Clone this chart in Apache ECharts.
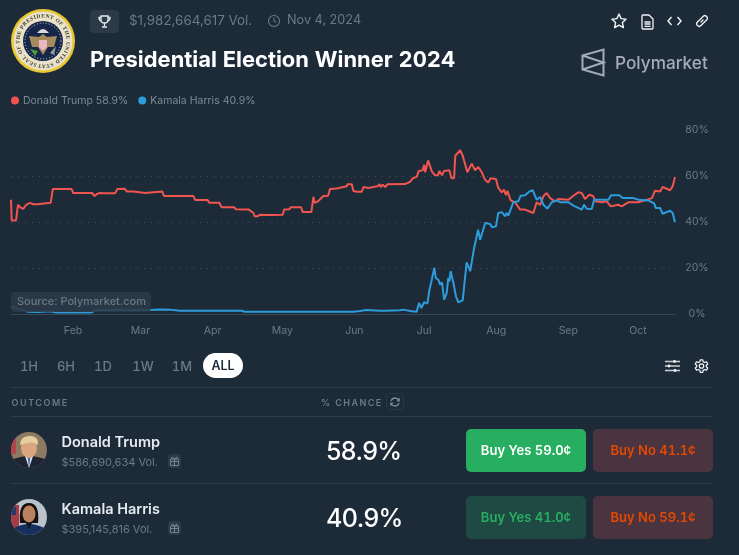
<!DOCTYPE html>
<html>
<head>
<meta charset="utf-8">
<title>Presidential Election Winner 2024</title>
<script src="https://cdn.jsdelivr.net/npm/echarts@6/dist/echarts.min.js"></script>
<style>
html, body { margin: 0; padding: 0; background: #1d2b39; }
body { width: 739px; height: 555px; position: relative; overflow: hidden; font-family: Inter, "Noto Sans", sans-serif; }
#chart-content { position: absolute; left: 0; top: 0; width: 739px; height: 555px; }
.t { position: absolute; white-space: nowrap; line-height: 1; }
.abs { position: absolute; }
.muted { color: #6c7a88; }
.tab { position: absolute; top: 359px; width: 34px; margin-left: -17px; text-align: center; font-size: 13px; font-weight: 500; line-height: 14px; color: #6c7a88; font-variant-numeric: tabular-nums; }
.rule { position: absolute; left: 11px; width: 702px; height: 1px; background: #2f3d4b; }
.btn { position: absolute; width: 120px; height: 43px; line-height: 43px; border-radius: 5px; text-align: center; font-size: 13px; font-weight: 600; font-variant-numeric: tabular-nums; }
.yes { background: #27ae60; color: #fff; }
.yes-off { background: #1f4a43; color: #27ae60; }
.no { background: #4a3440; color: #e64800; }
.name { position: absolute; left: 61.5px; font-size: 14.5px; font-weight: 600; color: #e6ebf0; line-height: 16px; }
.vol { position: absolute; left: 61.5px; font-size: 11px; color: #6c7a88; line-height: 13px; }
.pct { position: absolute; left: 326px; font-size: 25px; letter-spacing: -0.6px; font-weight: 500; color: #fff; line-height: 28px; }
.gift { position: absolute; left: 168px; width: 13px; height: 14px; border-radius: 3px; background: #2a3a49; }
svg { position: absolute; overflow: visible; }
</style>
</head>
<body>
<div id="chart-content"></div>

<!-- header -->
<svg style="left:11px;top:9px" width="64" height="64" viewBox="0 0 64 64">
  <circle cx="32" cy="32" r="32" fill="#e8c832"/>
  <circle cx="32" cy="32" r="29.5" fill="#e9e2c8"/>
  <defs><path id="sealArc" d="M32 32 m-23.5 0 a23.5 23.5 0 1 1 47 0 a23.5 23.5 0 1 1 -47 0"/></defs>
  <text transform="rotate(-75 32 32)" font-family="Liberation Serif" font-size="5.4" font-weight="700" fill="#3c3a30" letter-spacing=".5"><textPath href="#sealArc">SEAL OF THE PRESIDENT OF THE UNITED STATES</textPath></text>
  <circle cx="32" cy="32" r="20" fill="#15264a"/>
  <circle cx="32" cy="32" r="18" fill="none" stroke="#d8d8d8" stroke-width="1" stroke-dasharray="1 2"/>
  <path d="M28 22 Q32 18 36 22 L38 24 H26 Z" fill="#d9d9d9"/>
  <path d="M18 27 L28 28 L32 25 L36 28 L46 27 L43 38 L37 38 L32 46 L27 38 L21 38 Z" fill="#a58a5c"/>
  <path d="M28 31 H36 V38 L32 42 L28 38 Z" fill="#e8b9c3"/>
  <path d="M19 40 L27 42 L24 47 Z" fill="#4c9a3c"/>
  <path d="M45 37 L39 44 L43 46 Z" fill="#9a9a9a"/>
</svg>
<div class="abs" style="left:90px;top:10px;width:29px;height:23px;border-radius:4px;background:#2c3a48"></div>
<svg style="left:98px;top:15px" width="13" height="13" viewBox="0 0 13 13" fill="none" stroke="#e6ebf0" stroke-width="1.3">
  <path d="M3 1 H10 V5 Q10 8 6.5 8 Q3 8 3 5 Z"/><path d="M3 2.5 H1 Q1 5.5 3.2 5.8 M10 2.5 H12 Q12 5.5 9.8 5.8 M6.5 8 V11 M4 12 H9"/>
</svg>
<div class="t muted" style="left:129px;top:14px;font-size:13.4px">$1,982,664,617 Vol.</div>
<svg style="left:268px;top:15px" width="12" height="12" viewBox="0 0 12 12" fill="none" stroke="#6c7a88" stroke-width="1.1">
  <circle cx="6" cy="6" r="5.5"/><path d="M6 2.8 V6 L8.2 7.4"/>
</svg>
<div class="t muted" style="left:287px;top:14px;font-size:12.7px">Nov 4, 2024</div>
<div class="t" style="left:90px;top:49px;font-size:21.9px;font-weight:700;color:#fff;font-variant-numeric:tabular-nums">Presidential Election Winner 2024</div>

<svg style="left:611px;top:13px" width="16" height="16" viewBox="0 0 16 16" fill="none" stroke="#f2f4f6" stroke-width="1.4" stroke-linejoin="round">
  <path d="M8 1 L10.1 5.6 L15 6.2 L11.4 9.6 L12.4 14.6 L8 12.1 L3.6 14.6 L4.6 9.6 L1 6.2 L5.9 5.6 Z"/>
</svg>
<svg style="left:641px;top:14px" width="13" height="16" viewBox="0 0 13 16" fill="none" stroke="#f2f4f6" stroke-width="1.3" stroke-linejoin="round">
  <path d="M1 2 Q1 1 2 1 H8 L12 5 V14 Q12 15 11 15 H2 Q1 15 1 14 Z M3.5 8 H9.5 M3.5 10 H9.5 M3.5 12.3 H9.5"/>
</svg>
<svg style="left:667px;top:16px" width="15" height="10" viewBox="0 0 15 10" fill="none" stroke="#f2f4f6" stroke-width="1.4">
  <path d="M4.5 1 L1 5 L4.5 9 M10.5 1 L14 5 L10.5 9"/>
</svg>
<svg style="left:695px;top:14px" width="14" height="14" viewBox="0 0 14 14" fill="none" stroke="#f2f4f6" stroke-width="1.3" stroke-linecap="round">
  <path d="M6 8 L8 6 M5.5 5 L8.3 2.2 Q9.8 .8 11.6 2.4 Q13.2 4.2 11.8 5.7 L9 8.5 M8.5 9 L5.7 11.8 Q4.2 13.2 2.4 11.6 Q.8 9.8 2.2 8.3 L5 5.5"/>
</svg>

<svg style="left:581px;top:48px" width="24" height="29" viewBox="0 0 24 29" fill="none" stroke="#a5acb8" stroke-width="2">
  <path d="M22.5 1.5 V27.5 L1.5 21.5 V7.5 Z M1.5 7.5 L22.5 14.5 L1.5 21.5"/>
</svg>
<div class="t" style="left:615px;top:54px;font-size:17.2px;font-weight:500;color:#a5acb8">Polymarket</div>

<!-- range buttons -->
<div class="tab" style="left:29px">1H</div>
<div class="tab" style="left:66px">6H</div>
<div class="tab" style="left:103px">1D</div>
<div class="tab" style="left:143px">1W</div>
<div class="tab" style="left:182px">1M</div>
<div class="abs" style="left:203px;top:353px;width:40px;height:25px;border-radius:13px;background:#fff;text-align:center;line-height:25px;font-size:12.5px;font-weight:600;color:#1d2b39">ALL</div>
<svg style="left:665px;top:359px" width="15" height="14" viewBox="0 0 15 14" fill="#f2f4f6" stroke="#c9ced4">
  <path d="M0 2.5 H15 M0 7 H15 M0 11.5 H15" stroke-width="1.3"/>
  <circle cx="9.5" cy="2.5" r="1.4" stroke="none"/><circle cx="4" cy="7" r="1.4" stroke="none"/><circle cx="10" cy="11.5" r="1.4" stroke="none"/>
</svg>
<svg style="left:694px;top:358px" width="15" height="16" viewBox="0 0 24 24" fill="none" stroke="#f2f4f6" stroke-width="2">
  <circle cx="12" cy="12" r="3.5"/>
  <path d="M10 2 H14 L14.6 5 L17.2 6.4 L20 5.2 L22 8.8 L19.7 10.8 V13.2 L22 15.2 L20 18.8 L17.2 17.6 L14.6 19 L14 22 H10 L9.4 19 L6.8 17.6 L4 18.8 L2 15.2 L4.3 13.2 V10.8 L2 8.8 L4 5.2 L6.8 6.4 L9.4 5 Z" stroke-linejoin="round"/>
</svg>

<!-- outcomes table -->
<div class="rule" style="top:387px"></div>
<div class="rule" style="top:416px"></div>
<div class="rule" style="top:483px"></div>
<div class="t muted" style="left:11.5px;top:398px;font-size:9px;font-weight:600;letter-spacing:1.55px">OUTCOME</div>
<div class="t muted" style="left:321px;top:398px;font-size:9px;font-weight:600;letter-spacing:1.45px">% CHANCE</div>
<div class="abs" style="left:386px;top:393px;width:18px;height:17px;border:1px solid #2a3846;border-radius:4px;box-sizing:border-box"></div>
<svg style="left:390px;top:397px" width="10" height="10" viewBox="0 0 10 10" fill="none" stroke="#7d8a97" stroke-width="1.3">
  <path d="M1 4 Q2 1 5 1 Q7.5 1 9 3.5 M9 6 Q8 9 5 9 Q2.5 9 1 6.5 M9.2 1.2 V3.8 H6.8 M.8 8.8 V6.2 H3.2"/>
</svg>

<svg style="left:11px;top:432px" width="36" height="36" viewBox="0 0 36 36">
  <defs><clipPath id="c1"><circle cx="18" cy="18" r="18"/></clipPath></defs>
  <g clip-path="url(#c1)">
    <rect width="36" height="36" fill="#8d7a62"/>
    <rect width="5" height="22" fill="#b5444a"/>
    <path d="M0 36 V28 Q10 24 18 24 Q26 24 36 28 V36 Z" fill="#1e2433"/>
    <path d="M14 24 L18 36 L22 24 Z" fill="#e9e9e9"/><path d="M16.5 25 L18 36 L19.5 25 Z" fill="#3f6fb0"/>
    <ellipse cx="18" cy="16" rx="8" ry="10" fill="#dba67f"/>
    <path d="M9 13 Q9 4 19 4 Q28 4 27 13 Q22 8 9 13 Z" fill="#e5cf9f"/>
  </g>
</svg>
<div class="name" style="top:434px">Donald Trump</div>
<div class="vol" style="top:456px">$586,690,634 Vol.</div>
<div class="gift" style="top:454px"></div>
<svg style="left:170px;top:456px" width="9" height="10" viewBox="0 0 9 10" fill="none" stroke="#74818e" stroke-width="1">
  <path d="M.5 3 H8.5 V9.5 H.5 Z M4.5 3 V9.5 M.5 5.5 H8.5 M4.5 3 Q2 0 1.5 1.5 Q1.5 3 4.5 3 Q7 0 7.5 1.5 Q7.5 3 4.5 3"/>
</svg>
<div class="pct" style="top:437px">58.9%</div>
<div class="btn yes" style="left:466px;top:429px">Buy Yes 59.0¢</div>
<div class="btn no" style="left:593px;top:429px">Buy No 41.1¢</div>

<svg style="left:11px;top:499px" width="36" height="36" viewBox="0 0 36 36">
  <defs><clipPath id="c2"><circle cx="18" cy="18" r="18"/></clipPath></defs>
  <g clip-path="url(#c2)">
    <rect width="36" height="36" fill="#b9c2cd"/>
    <rect width="8" height="26" y="6" fill="#a83a44"/><rect width="5" height="8" y="8" fill="#27396b"/>
    <path d="M9 24 Q7 4 18 4 Q29 4 27 24 Z" fill="#17110e"/>
    <path d="M1 36 V30 Q10 25 18 25 Q26 25 35 30 V36 Z" fill="#18305e"/>
    <ellipse cx="18" cy="15" rx="6.5" ry="8.5" fill="#b9835f"/>
    <path d="M15 24 L18 30 L21 24 Z" fill="#0f1420"/>
  </g>
</svg>
<div class="name" style="top:501px">Kamala Harris</div>
<div class="vol" style="top:523px">$395,145,816 Vol.</div>
<div class="gift" style="top:521px"></div>
<svg style="left:170px;top:523px" width="9" height="10" viewBox="0 0 9 10" fill="none" stroke="#74818e" stroke-width="1">
  <path d="M.5 3 H8.5 V9.5 H.5 Z M4.5 3 V9.5 M.5 5.5 H8.5 M4.5 3 Q2 0 1.5 1.5 Q1.5 3 4.5 3 Q7 0 7.5 1.5 Q7.5 3 4.5 3"/>
</svg>
<div class="pct" style="top:504px">40.9%</div>
<div class="btn yes-off" style="left:466px;top:496px">Buy Yes 41.0¢</div>
<div class="btn no" style="left:593px;top:496px">Buy No 59.1¢</div>

<script>
// x is days since 1 Jan 2024
var monthStarts = [31, 60, 91, 121, 152, 182, 213, 244, 274];
var monthLabels = ['Feb', 'Mar', 'Apr', 'May', 'Jun', 'Jul', 'Aug', 'Sep', 'Oct'];
var chanceTicks = [0, 20, 40, 60, 80];

var trumpDays = [4.33, 4.62, 6.5, 7.34, 8.2, 9.6, 10.8, 12.5, 13.9, 15.7, 16.1, 21.4, 22.3, 30.4, 31.1, 39.2, 40.3, 41.5, 42.6, 43.3, 44.3, 45.8, 46.3, 46.9, 49.1, 50.1, 53.2, 54.1, 57, 57.4, 62, 62.4, 69.4, 70.1, 82.8, 83.5, 88.8, 89.6, 93.9, 94.9, 100.4, 101, 106.6, 108.6, 109.1, 110.5, 111.4, 115, 115.7, 117.2, 121.2, 121.8, 124.1, 124.6, 129.1, 129.8, 133.5, 134.4, 134.9, 136.5, 138.7, 140.7, 141.5, 144.4, 148.7, 149, 150.9, 151.6, 152.3, 153.3, 155.2, 155.9, 158, 158.7, 161.9, 162.8, 163.3, 164.2, 165.3, 166.2, 173.8, 176, 177.1, 178.8, 179.7, 181.4, 182, 182.5, 183.7, 185.3, 186.7, 187.9, 188.6, 189.7, 190.6, 192.9, 193.7, 194.9, 195.4, 197.5, 198.6, 200.6, 202.5, 203.9, 205.3, 206.8, 208.2, 209.6, 210.6, 212.9, 213.9, 215.4, 216.4, 217.2, 217.8, 219.2, 221.1, 223.3, 225.4, 229, 230.4, 231.9, 233.3, 234.7, 236.2, 238.3, 239.7, 244.1, 246.2, 248.3, 249.8, 251.2, 253.1, 254.8, 255.5, 258.4, 260.5, 262.3, 265.5, 267, 269.9, 274.2, 277, 280, 281.3, 283.5, 284.6, 287.8, 288.9, 289.9];
var trumpValues = [49.7, 40.7, 40.7, 47.4, 46.5, 45.7, 47.4, 48.3, 47.7, 47.7, 48.4, 48.4, 54.3, 54.3, 52.6, 52.6, 51.3, 52.3, 52.6, 53.3, 52.5, 52.5, 52.9, 52.5, 52.5, 54.3, 54.5, 53.3, 53.3, 52.6, 52.6, 53.3, 53.3, 51.3, 51.3, 49.6, 49.6, 48.4, 48.4, 46.4, 46.4, 45.5, 45.4, 43.9, 42.5, 42.5, 43.2, 43, 42.3, 43, 43.2, 45.4, 45.5, 46.4, 46.4, 44.3, 44.3, 50.9, 48.3, 49.1, 51.3, 51.4, 54.3, 54.6, 55.5, 56.4, 56.4, 53.5, 54.3, 53.2, 53.2, 55.2, 54.8, 55.2, 55.5, 56.5, 55.2, 56.2, 55.2, 56.4, 56.5, 57.5, 59, 59.6, 62.2, 62.5, 64.9, 61.6, 66.8, 62, 60.3, 60.3, 62.2, 60.3, 62.2, 62.5, 59.1, 59, 68.8, 71.2, 68.8, 61.6, 65.4, 62.5, 63.9, 61.6, 58.4, 57.2, 59, 58.7, 54.8, 52.9, 54, 51.7, 53.5, 49.4, 48.6, 45.4, 45.4, 43.9, 48.6, 47.4, 51.2, 52.6, 50.4, 49, 50, 49.7, 51.4, 52.9, 52.6, 50, 51.9, 51.2, 49, 48.6, 49, 46.8, 47.5, 46.8, 48.6, 48.6, 49.4, 50.4, 53.6, 53.3, 55.2, 53.8, 55.5, 59.6];

var harrisDays = [4.33, 6, 8.2, 11.8, 16.1, 21.1, 23.3, 39, 40.5, 49.8, 57, 64.1, 64.8, 67.7, 72.7, 73.4, 77, 77.7, 78.7, 103.5, 104.9, 135.8, 143.7, 144.4, 145.1, 151.6, 152.3, 154.4, 157.3, 158, 163, 163.8, 165.2, 171.6, 173, 173.8, 176.7, 178.8, 179.8, 180.8, 182, 183.4, 184.3, 185.3, 186.4, 187, 188.1, 188.9, 189.7, 190.6, 191.7, 192.4, 192.9, 193.4, 194.6, 195.7, 196.7, 198.6, 199.5, 200.3, 201.8, 202.6, 203.5, 204.3, 205.2, 206.1, 207.2, 208.3, 210.4, 211.2, 212.9, 213.9, 215.4, 216.8, 217.5, 218.2, 220.4, 222.5, 223.5, 225.4, 227.3, 228.7, 230.4, 231.9, 233.3, 235, 236.9, 239, 240.5, 244.1, 246.2, 249.8, 250.8, 251.9, 254.1, 255.1, 258.4, 259.1, 261.3, 262.4, 266, 267.4, 272, 274.2, 278.5, 281, 281.6, 283.5, 284.6, 287.8, 288.9, 289.9];
var harrisValues = [3.3, 2.6, 1.9, 1, 0.9, 1.2, 0.7, 0.7, 1.6, 1.9, 1.7, 1.7, 1.4, 2, 1.9, 1.4, 1.4, 1.9, 1.4, 1.4, 1, 1, 1, 0.6, 1, 1, 0.6, 1.3, 1.7, 1.4, 1.4, 1, 1.4, 1.6, 1.9, 1.4, 1.2, 1, 4.8, 2.6, 5.1, 4.5, 10.6, 14.9, 20.1, 15.7, 14.9, 12.8, 13.8, 6.2, 9.1, 15.7, 14.2, 18.6, 13.5, 7.7, 5.1, 5.9, 14.9, 22.5, 18.6, 18.1, 28.7, 32.3, 36.7, 32.3, 36, 39.6, 39.1, 37.7, 38.1, 43.9, 44.3, 42.5, 43.9, 42.8, 48.6, 49, 51.4, 51.6, 53.3, 53.8, 49.7, 50.9, 47.5, 45.8, 48.6, 49.4, 48.6, 48.6, 47.1, 45.4, 47.5, 45.8, 45.7, 49.7, 49.7, 50.4, 49.7, 51.6, 51.6, 50.4, 50.4, 49.7, 49.4, 48, 46.1, 46.1, 43.6, 44.9, 43.9, 39.9];

var trumpLast = '58.9%';
var harrisLast = '40.9%';

function zip(xs, ys) {
    return xs.map(function (x, i) { return [x, ys[i]]; });
}

var myChart = echarts.init(document.getElementById('chart-content'));
myChart.setOption({
    animation: false,
    textStyle: { fontFamily: 'Inter' },
    legend: {
        left: 11,
        top: 95,
        icon: 'circle',
        itemWidth: 8,
        itemHeight: 8,
        itemGap: 10,
        padding: 0,
        textStyle: { color: '#7d8a97', fontSize: 10.5, padding: [0, 0, 0, -1] },
        formatter: function (name) {
            return name + ' ' + (name === 'Donald Trump' ? trumpLast : harrisLast);
        },
        data: ['Donald Trump', 'Kamala Harris']
    },
    grid: { left: 11, right: 64, top: 130, bottom: 241 },
    xAxis: {
        type: 'value',
        min: 4.33,
        max: 289.9,
        axisLine: { show: true, onZero: false, lineStyle: { color: '#3a4856', width: 1 } },
        axisTick: { show: false },
        splitLine: { show: false },
        axisLabel: {
            color: '#6c7a88',
            fontSize: 10.5,
            margin: 11,
            customValues: monthStarts,
            formatter: function (v) { return monthLabels[monthStarts.indexOf(v)]; }
        }
    },
    yAxis: {
        type: 'value',
        position: 'right',
        min: 0,
        max: 80,
        interval: 20,
        axisLine: { show: false },
        axisTick: { show: false },
        splitLine: { showMinLine: false, showMaxLine: false, lineStyle: { color: '#43515f', type: [1, 6], width: 1 } },
        axisLabel: {
            color: '#6c7a88',
            fontSize: 10.5,
            align: 'center',
            margin: 22,
            padding: [0, 0, 2, 0],
            formatter: function (v) { return chanceTicks.indexOf(v) >= 0 ? v + '%' : ''; }
        }
    },
    series: [
        {
            name: 'Donald Trump',
            type: 'line',
            showSymbol: false,
            lineStyle: { color: '#f2544f', width: 2 },
            itemStyle: { color: '#f2544f' },
            data: zip(trumpDays, trumpValues)
        },
        {
            name: 'Kamala Harris',
            type: 'line',
            showSymbol: false,
            lineStyle: { color: '#2d9cdb', width: 2 },
            itemStyle: { color: '#2d9cdb' },
            data: zip(harrisDays, harrisValues)
        }
    ],
    graphic: [
        {
            type: 'rect',
            z: 50,
            shape: { x: 11, y: 292, width: 140, height: 20, r: 4 },
            style: { fill: 'rgba(44,58,72,0.88)' }
        },
        {
            type: 'text',
            z: 51,
            x: 17,
            y: 296,
            style: { text: 'Source: Polymarket.com', fill: '#6c7a88', font: '500 11px Inter' }
        }
    ]
});
</script>
</body>
</html>
